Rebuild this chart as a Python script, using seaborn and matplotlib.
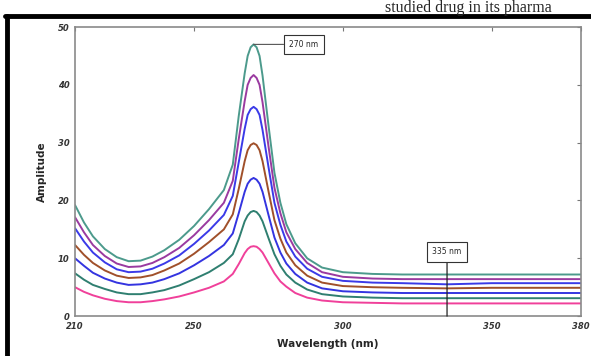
"""Derivative spectra of the studied drug: amplitude vs wavelength (7 concentrations)."""

import pandas as pd
import matplotlib.pyplot as plt
import seaborn as sns
from matplotlib.lines import Line2D

# wavelength grid (nm) shared by every curve
wavelength = [210, 213, 216, 220, 224, 228, 232, 236, 240, 245, 250, 255, 260, 263,
              265, 267, 268, 269, 270, 271, 272, 273, 275, 277, 279, 281, 284, 288,
              293, 300, 310, 320, 335, 350, 365, 380]

# amplitudes, lowest concentration first
amp_1 = [5.0, 4.2, 3.6, 3.0, 2.6, 2.4, 2.4, 2.6, 2.9, 3.4, 4.1, 4.9, 6.0, 7.3,
         9.0, 10.9, 11.6, 12.0, 12.1, 12.0, 11.6, 11.0, 9.2, 7.4, 6.0, 5.1, 4.0, 3.2,
         2.7, 2.4, 2.3, 2.2, 2.2, 2.2, 2.2, 2.2]
amp_2 = [7.4, 6.3, 5.4, 4.7, 4.1, 3.8, 3.8, 4.1, 4.5, 5.3, 6.4, 7.6, 9.2, 10.7,
         13.3, 16.4, 17.4, 18.0, 18.2, 18.0, 17.4, 16.4, 13.5, 10.7, 8.7, 7.2, 5.8, 4.6,
         3.8, 3.4, 3.2, 3.1, 3.1, 3.1, 3.1, 3.1]
amp_3 = [10.0, 8.7, 7.5, 6.5, 5.8, 5.4, 5.5, 5.8, 6.4, 7.4, 8.8, 10.4, 12.3, 14.3,
         17.8, 21.5, 22.9, 23.6, 23.9, 23.6, 22.9, 21.5, 17.5, 13.6, 11.0, 9.1, 7.3, 5.8,
         4.8, 4.3, 4.1, 4.0, 4.0, 4.0, 4.0, 4.0]
amp_4 = [12.3, 10.6, 9.2, 7.9, 7.0, 6.6, 6.7, 7.1, 7.9, 9.1, 10.8, 12.8, 15.0, 17.6,
         22.0, 26.8, 28.7, 29.6, 29.9, 29.6, 28.7, 26.8, 21.6, 16.6, 13.4, 11.0, 8.8, 7.0,
         5.8, 5.2, 5.0, 4.9, 4.8, 4.9, 4.9, 4.9]
amp_5 = [15.2, 12.9, 11.0, 9.3, 8.1, 7.6, 7.7, 8.2, 9.1, 10.5, 12.5, 14.8, 17.5, 20.8,
         26.6, 32.4, 34.8, 35.8, 36.2, 35.8, 34.8, 32.2, 25.8, 19.6, 15.8, 12.9, 10.3, 8.2,
         6.8, 6.1, 5.8, 5.7, 5.5, 5.7, 5.7, 5.7]
amp_6 = [17.1, 14.5, 12.3, 10.4, 9.1, 8.5, 8.6, 9.2, 10.2, 11.8, 14.0, 16.6, 19.6, 23.4,
         30.6, 37.2, 40.0, 41.2, 41.7, 41.2, 40.0, 37.0, 29.4, 22.2, 17.8, 14.5, 11.6, 9.2,
         7.6, 6.8, 6.5, 6.4, 6.4, 6.4, 6.4, 6.4]
amp_7 = [19.2, 16.2, 13.8, 11.6, 10.2, 9.5, 9.6, 10.3, 11.4, 13.2, 15.6, 18.5, 21.8, 26.2,
         34.6, 42.0, 45.0, 46.5, 47.0, 46.5, 45.0, 41.6, 33.0, 24.8, 19.6, 15.9, 12.6, 10.0,
         8.4, 7.6, 7.3, 7.2, 7.2, 7.2, 7.2, 7.2]

curves = [amp_1, amp_2, amp_3, amp_4, amp_5, amp_6, amp_7]
colors = ['#f0409a', '#2f7f70', '#3434e0', '#a0502a', '#3a3ae8', '#9a3aa0', '#4c9a8c']

x_ticks = [210, 250, 300, 350, 380]
y_ticks = [0, 10, 20, 30, 40, 50]

# long-format table for seaborn
rows = []
for i, amps in enumerate(curves):
    for wl, a in zip(wavelength, amps):
        rows.append({'wavelength': wl, 'amplitude': a, 'conc': i})
df = pd.DataFrame(rows)

sns.set_style('white')
fig = plt.figure(figsize=(5.91, 3.56), dpi=100)
ax = fig.add_axes([0.127, 0.112, 0.856, 0.812])

sns.lineplot(data=df, x='wavelength', y='amplitude', hue='conc',
             palette=colors, linewidth=1.4, legend=False, ax=ax)

ax.set_xlim(210, 380)
ax.set_ylim(0, 50)
ax.set_xticks(x_ticks)
ax.set_yticks(y_ticks)
ax.tick_params(direction='in', top=True, right=True, length=3, width=0.8,
               color='#777777', labelsize=6, pad=4)
for lab in ax.get_xticklabels() + ax.get_yticklabels():
    lab.set_fontweight('bold')
    lab.set_fontstyle('italic')
    lab.set_color('#333333')
for sp in ax.spines.values():
    sp.set_color('#8a8a8a')
    sp.set_linewidth(1.2)

ax.set_xlabel('Wavelength (nm)', fontsize=7.5, fontweight='bold', labelpad=6)
ax.set_ylabel('Amplitude', fontsize=7.5, fontweight='bold', labelpad=8)

# annotation boxes
box = dict(boxstyle='square,pad=0.7', fc='white', ec='#333333', lw=0.8)
ax.annotate('270 nm', xy=(270, 47), xytext=(282, 47),
            fontsize=5.5, ha='left', va='center', bbox=box,
            arrowprops=dict(arrowstyle='-', color='#555555', lw=0.8,
                            shrinkA=0, shrinkB=0))
ax.annotate('335 nm', xy=(335, 0), xytext=(335, 11.1),
            fontsize=5.5, ha='center', va='center', bbox=box,
            arrowprops=dict(arrowstyle='-', color='#222222', lw=0.9,
                            shrinkA=0, shrinkB=0))

# page frame and the document text above it from the source screenshot
fig.add_artist(Line2D([0.008, 1.0], [0.955, 0.955], color='black', lw=3.5))
fig.add_artist(Line2D([0.012, 0.012], [0.0, 0.955], color='black', lw=3.5))
fig.text(0.652, 0.999, 'studied drug in its pharma', fontsize=11.5,
         family='Liberation Serif', va='top', ha='left')

fig.savefig('out.png', dpi=100)
